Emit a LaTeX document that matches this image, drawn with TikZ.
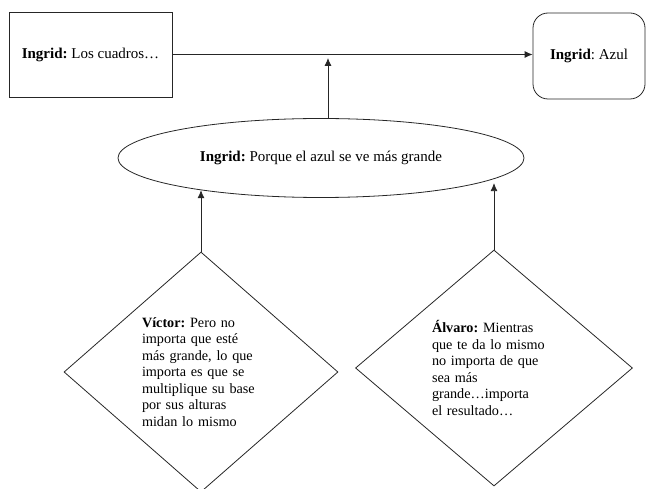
\documentclass[tikz,border=0pt]{standalone}
\usepackage{fontspec}
\setmainfont{Liberation Serif}
\usetikzlibrary{shapes.geometric,arrows.meta}
\frenchspacing
\newlength{\du}
\setlength{\du}{1pt}
\tikzset{
  diashape/.style={draw=dialinecolor, line width=0.8\du, inner sep=0pt, font=\fontsize{15}{17}\selectfont},
  diatext/.style={align=left, font=\fontsize{14.2}{16.5}\selectfont},
  dialink/.style={draw=dialinecolor, line width=0.8\du, -{Latex[length=8pt,width=7pt]}},
}

\begin{document}
\begin{tikzpicture}
\pgftransformxscale{1.000000}
\pgftransformyscale{-1.000000}
\definecolor{dialinecolor}{rgb}{0.150000, 0.150000, 0.150000}
\useasboundingbox (0\du,0\du) rectangle (646\du,489\du);
% top row
\node[diashape, rectangle, minimum width=163\du, minimum height=85\du] (cuadros) at (90.5\du,54.5\du){\textbf{Ingrid:} Los cuadros…};
\node[diashape, rectangle, rounded corners=15\du, minimum width=112\du, minimum height=86\du] (azul) at (589\du,56\du){\textbf{Ingrid}: Azul};
\coordinate (meet) at (328\du,58\du);
% ellipse
\node[diashape, ellipse, minimum width=406\du, minimum height=79\du] (porque) at (321\du,158\du){\textbf{Ingrid:} Porque el azul se ve más grande};
% diamonds
\node[diashape, diatext, diamond, aspect=1.14, minimum width=274\du, minimum height=240\du, text width=118\du] (victor) at (201\du,372\du){\textbf{Víctor:} Pero no\\importa que esté\\más grande, lo que\\importa es que se\\multiplique su base\\por sus alturas\\midan lo mismo};
\node[diashape, diatext, diamond, aspect=1.17, minimum width=277\du, minimum height=236\du, text width=124\du] (alvaro) at (494\du,368\du){\textbf{Álvaro:} Mientras\\que te da lo mismo\\no importa de que\\sea más\\grande…importa\\el resultado…};
% links
\draw[dialink] (cuadros.east) -- (cuadros.east -| azul.west);
\draw[dialink] (meet |- porque.north) -- (meet);
\draw[dialink] (victor.north) -- (victor.north |- porque.195);
\draw[dialink] (alvaro.north) -- (alvaro.north |- porque.351);
\end{tikzpicture}
\end{document}
